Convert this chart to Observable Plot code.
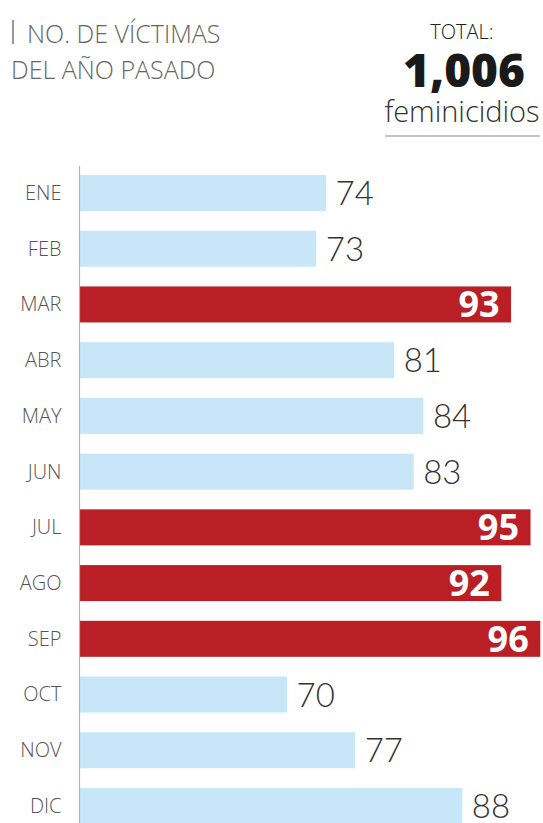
<!DOCTYPE html>
<html>
<head>
<meta charset="utf-8">
<script src="https://cdn.jsdelivr.net/npm/d3@7"></script>
<script src="https://cdn.jsdelivr.net/npm/@observablehq/plot@0.6"></script>
<style>
  html, body { margin: 0; padding: 0; background: #fff; }
  #wrap { position: relative; width: 543px; height: 823px; overflow: hidden; }
  #header { position: relative; height: 160px; }
  .t { position: absolute; white-space: nowrap; font-family: "Open Sans", sans-serif; }
  #bar { position: absolute; left: 12px; top: 20px; width: 1.5px; height: 24px; background: #999; }
  #l1 { left: 27px; top: 21px; font-size: 25px; font-weight: 300; color: #666; line-height: 25px; }
  #l2 { left: 11px; top: 57px; font-size: 25px; font-weight: 300; color: #666; line-height: 25px; }
  #total { left: 384px; width: 156px; text-align: center; top: 22px; font-size: 20px; font-weight: 300; color: #222; line-height: 20px; }
  #num { left: 384px; width: 160px; text-align: center; top: 46px; font-size: 46px; font-weight: 800; color: #1a1a1a; line-height: 46px; }
  #fem { left: 384px; width: 156px; text-align: center; top: 96px; font-size: 29px; font-weight: 300; color: #333; line-height: 29px; }
  #uline { position: absolute; left: 385px; width: 155px; top: 135px; height: 2px; background: #c4c4c4; }
  #chart svg { display: block; overflow: visible; }
</style>
</head>
<body>
<div id="wrap">
  <div id="header">
    <div id="bar"></div>
    <div class="t" id="l1">NO. DE VÍCTIMAS</div>
    <div class="t" id="l2">DEL AÑO PASADO</div>
    <div class="t" id="total">TOTAL:</div>
    <div class="t" id="num">1,006</div>
    <div class="t" id="fem">feminicidios</div>
    <div id="uline"></div>
  </div>
  <div id="chart"></div>
</div>
<script>
const months = ["ENE", "FEB", "MAR", "ABR", "MAY", "JUN", "JUL", "AGO", "SEP", "OCT", "NOV", "DIC"];
const victims = [74, 73, 93, 81, 84, 83, 95, 92, 96, 70, 77, 88];
const highlighted = ["MAR", "JUL", "AGO", "SEP"];
const xDomain = [48.74, 96.28];

const data = months.map((m, i) => ({
  month: m,
  value: victims[i],
  group: highlighted.includes(m) ? "alto" : "normal"
}));
const normal = data.filter(d => d.group === "normal");
const high = data.filter(d => d.group === "alto");

const chart = Plot.plot({
  width: 543,
  height: 663,
  marginLeft: 80,
  marginRight: 0,
  marginTop: 6,
  marginBottom: 0,
  style: { background: "transparent" },
  x: { domain: xDomain, axis: null },
  y: {
    type: "band",
    domain: months,
    range: [15, 664],
    paddingInner: 0.354,
    paddingOuter: 0,
    align: 0.5,
    round: false,
    label: null
  },
  color: { domain: ["normal", "alto"], range: ["#c7e7f8", "#b91f24"] },
  marks: [
    Plot.barX(data, { x1: () => xDomain[0], x2: "value", y: "month", fill: "group" }),
    Plot.ruleX([xDomain[0]], { stroke: "#b5b5b5", strokeWidth: 1.2, dx: -1 }),
    Plot.axisY({
      tickSize: 0,
      tickPadding: 19,
      fontSize: 20,
      fontFamily: "Open Sans",
      fontWeight: 300,
      fill: "#555",
      label: null
    }),
    Plot.text(normal, {
      x: "value", y: "month", text: d => String(d.value),
      textAnchor: "start", dx: 9, dy: 1,
      fontSize: 33, fontFamily: "Lato", fontWeight: 300, fill: "#333"
    }),
    Plot.text(high, {
      x: "value", y: "month", text: d => String(d.value),
      textAnchor: "end", dx: -12, dy: 1,
      fontSize: 36, fontFamily: "Open Sans", fontWeight: 700, fill: "#fff"
    })
  ]
});
document.getElementById("chart").appendChild(chart);
</script>
</body>
</html>
